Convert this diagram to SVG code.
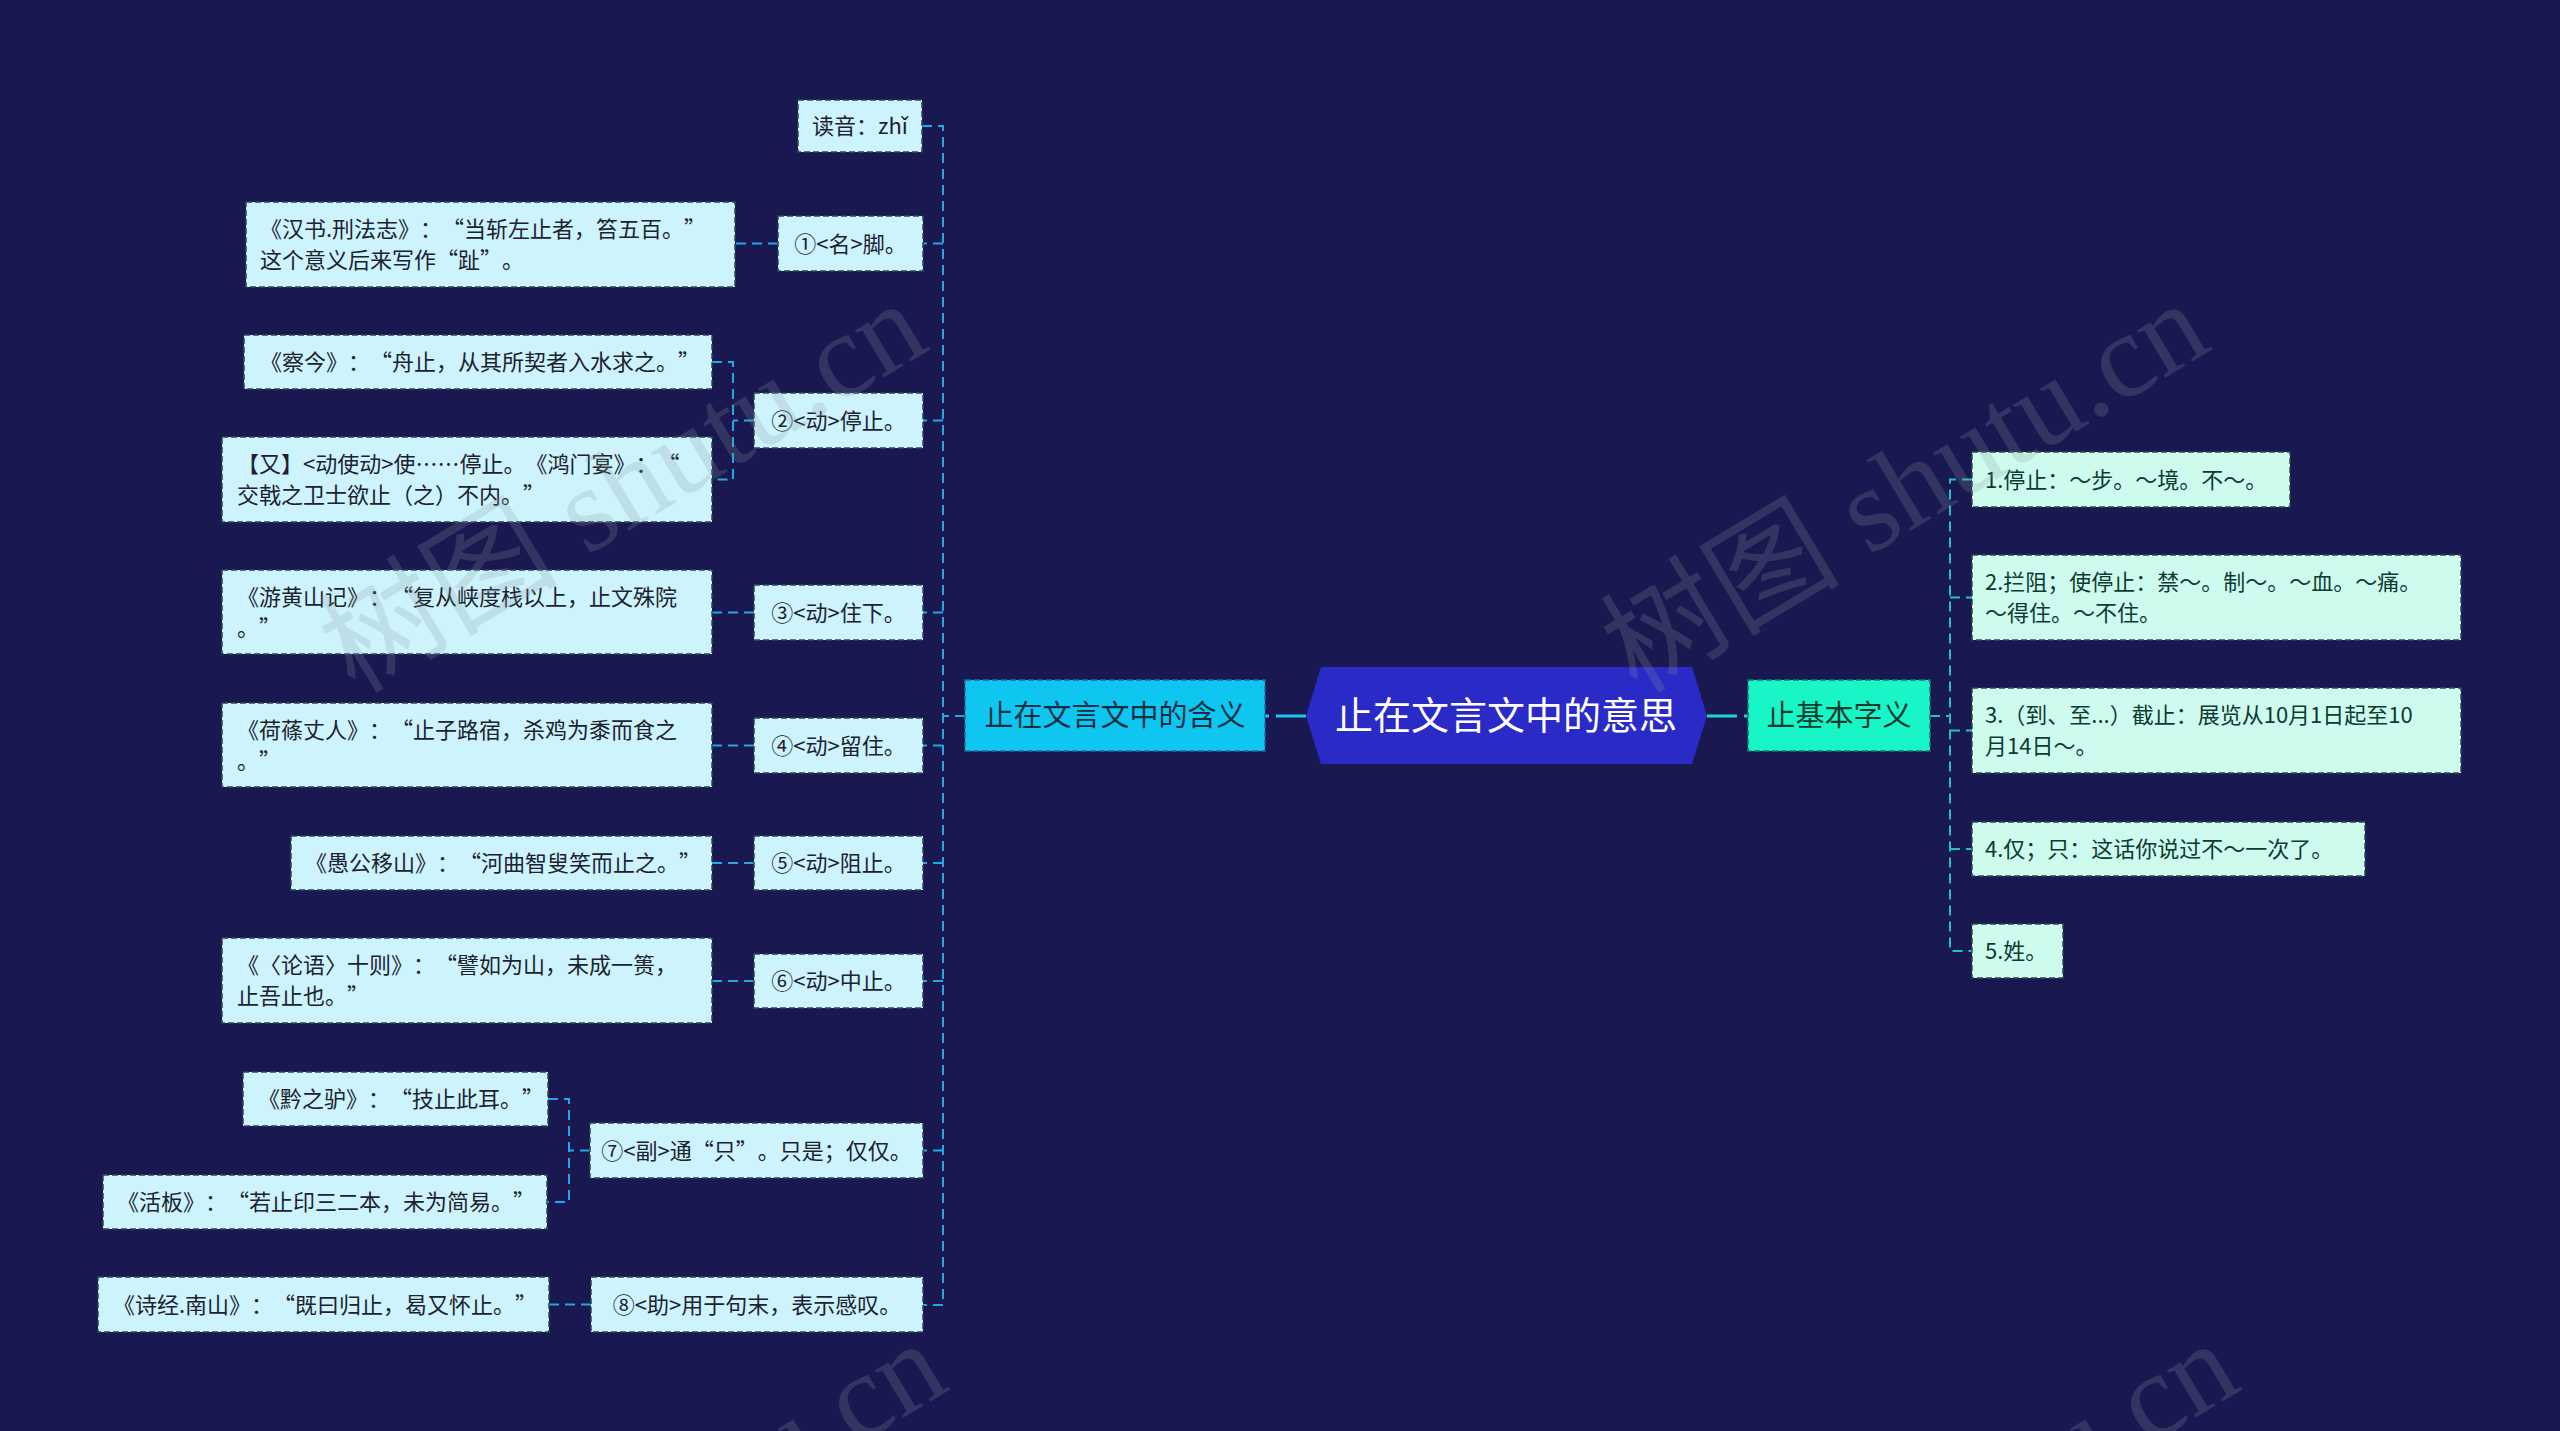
<svg xmlns="http://www.w3.org/2000/svg" width="2560" height="1431" viewBox="0 0 2560 1431">
<style>
.t{font-family:"Noto Sans CJK SC","Noto Sans",sans-serif;font-size:22px;fill:#1c2230;text-spacing-trim:space-all}
.tr{fill:#0e3a30}
.bl{fill:#cdf4fc;stroke:#2e4657;stroke-width:1.5;stroke-dasharray:6 3}
.br{fill:#cdfcef;stroke:#2e4a4a;stroke-width:1.5;stroke-dasharray:6 3}
.cl{fill:none;stroke:#1fa9e6;stroke-width:2;stroke-dasharray:10 6}
.cr{fill:none;stroke:#22c0c6;stroke-width:2;stroke-dasharray:10 6}
.wm{font-family:"Liberation Serif","Noto Sans CJK SC",serif;font-size:120px;fill:#8a9aa0;opacity:0.22}
</style>
<rect x="0" y="0" width="2560" height="1431" fill="#1a1850"/>

<g id="connectors">
<path class="cl" d="M965,716 H943"/>
<path class="cl" d="M922,126 H943 V1305 H923"/>
<path class="cl" d="M943,243.5 H923 M943,420.5 H923 M943,612.5 H923 M943,745.5 H923 M943,863 H923 M943,981 H923 M943,1150.5 H923"/>
<path class="cl" d="M778,243.5 H735"/>
<path class="cl" d="M754,420.5 H733 M712,362 H733 V479.5 H712"/>
<path class="cl" d="M754,612.5 H712"/>
<path class="cl" d="M754,745.5 H712"/>
<path class="cl" d="M754,863 H712"/>
<path class="cl" d="M754,981 H712"/>
<path class="cl" d="M590,1150.5 H569 M548,1099 H569 V1202 H547"/>
<path class="cl" d="M591,1304.5 H549"/>
<path class="cr" d="M1930,716 H1950"/>
<path class="cr" d="M1972,479.5 H1950 V951 H1972 M1950,597.5 H1972 M1950,730.5 H1972 M1950,849 H1972"/>
<path d="M1306,716 H1265" fill="none" stroke="#20c4f0" stroke-width="3" stroke-dasharray="30 7"/>
<path d="M1707,716 H1748" fill="none" stroke="#1cd8c4" stroke-width="3" stroke-dasharray="30 7"/>
</g>

<g id="root">
<polygon points="1306,716 1321,667 1692,667 1707,716 1692,764 1321,764" fill="#2a2ac6"/>
<text x="1506" y="729" text-anchor="middle" style="font-family:'Noto Sans CJK SC',sans-serif;font-size:38px;fill:#ffffff">止在文言文中的意思</text>
</g>

<g id="branch-left">
<rect x="965" y="680" width="300" height="71" fill="#0ec6f0" stroke="#1a6f9a" stroke-width="1.5" stroke-dasharray="6 3"/>
<text x="1115" y="726" text-anchor="middle" class="t" style="font-size:29px;fill:#143042">止在文言文中的含义</text>
</g>
<g id="branch-right">
<rect x="1748" y="680" width="182" height="71" fill="#18f5c6" stroke="#1a7a6a" stroke-width="1.5" stroke-dasharray="6 3"/>
<text x="1839" y="726" text-anchor="middle" class="t" style="font-size:29px;fill:#0e3a30">止基本字义</text>
</g>

<g id="n-duyin"><rect class="bl" x="798" y="100" width="124" height="52"/><text class="t" x="860" y="134" text-anchor="middle">读音：zhǐ</text></g>
<g id="n-1"><rect class="bl" x="778" y="216" width="145" height="55"/><text class="t" x="850.5" y="251.5" text-anchor="middle">①&lt;名&gt;脚。</text></g>
<g id="n-1a"><rect class="bl" x="246" y="202" width="489" height="85"/><text class="t" x="260" y="237">《汉书.刑法志》：“当斩左止者，笞五百。”</text><text class="t" x="260" y="268">这个意义后来写作“趾”。</text></g>
<g id="n-2"><rect class="bl" x="754" y="393" width="169" height="55"/><text class="t" x="838.5" y="428.5" text-anchor="middle">②&lt;动&gt;停止。</text></g>
<g id="n-2a"><rect class="bl" x="244" y="335" width="468" height="54"/><text class="t" x="260" y="370">《察今》：“舟止，从其所契者入水求之。”</text></g>
<g id="n-2b"><rect class="bl" x="222" y="437" width="490" height="85"/><text class="t" x="237" y="472">【又】&lt;动使动&gt;使……停止。《鸿门宴》：“</text><text class="t" x="237" y="503">交戟之卫士欲止（之）不内。”</text></g>
<g id="n-3"><rect class="bl" x="754" y="585" width="169" height="55"/><text class="t" x="838.5" y="620.5" text-anchor="middle">③&lt;动&gt;住下。</text></g>
<g id="n-3a"><rect class="bl" x="222" y="570" width="490" height="84"/><text class="t" x="237" y="604.5">《游黄山记》：“复从峡度栈以上，止文殊院</text><text class="t" x="237" y="635.5">。”</text></g>
<g id="n-4"><rect class="bl" x="754" y="718" width="169" height="55"/><text class="t" x="838.5" y="753.5" text-anchor="middle">④&lt;动&gt;留住。</text></g>
<g id="n-4a"><rect class="bl" x="222" y="703" width="490" height="84"/><text class="t" x="237" y="737.5">《荷蓧丈人》：“止子路宿，杀鸡为黍而食之</text><text class="t" x="237" y="768.5">。”</text></g>
<g id="n-5"><rect class="bl" x="754" y="836" width="169" height="54"/><text class="t" x="838.5" y="871" text-anchor="middle">⑤&lt;动&gt;阻止。</text></g>
<g id="n-5a"><rect class="bl" x="291" y="836" width="421" height="54"/><text class="t" x="305" y="871">《愚公移山》：“河曲智叟笑而止之。”</text></g>
<g id="n-6"><rect class="bl" x="754" y="954" width="169" height="54"/><text class="t" x="838.5" y="989" text-anchor="middle">⑥&lt;动&gt;中止。</text></g>
<g id="n-6a"><rect class="bl" x="222" y="938" width="490" height="85"/><text class="t" x="237" y="973">《〈论语〉十则》：“譬如为山，未成一篑，</text><text class="t" x="237" y="1004">止吾止也。”</text></g>
<g id="n-7"><rect class="bl" x="590" y="1123" width="333" height="55"/><text class="t" x="756.5" y="1158.5" text-anchor="middle">⑦&lt;副&gt;通“只”。只是；仅仅。</text></g>
<g id="n-7a"><rect class="bl" x="243" y="1072" width="305" height="54"/><text class="t" x="258" y="1107">《黔之驴》：“技止此耳。”</text></g>
<g id="n-7b"><rect class="bl" x="103" y="1175" width="444" height="54"/><text class="t" x="117" y="1210">《活板》：“若止印三二本，未为简易。”</text></g>
<g id="n-8"><rect class="bl" x="591" y="1277" width="332" height="55"/><text class="t" x="757" y="1312.5" text-anchor="middle">⑧&lt;助&gt;用于句末，表示感叹。</text></g>
<g id="n-8a"><rect class="bl" x="98" y="1277" width="451" height="55"/><text class="t" x="113" y="1312.5">《诗经.南山》：“既曰归止，曷又怀止。”</text></g>

<g id="r-1"><rect class="br" x="1972" y="452" width="318" height="55"/><text class="t tr" x="1985" y="487.5">1.停止：～步。～境。不～。</text></g>
<g id="r-2"><rect class="br" x="1972" y="555" width="489" height="85"/><text class="t tr" x="1985" y="590">2.拦阻；使停止：禁～。制～。～血。～痛。</text><text class="t tr" x="1985" y="621">～得住。～不住。</text></g>
<g id="r-3"><rect class="br" x="1972" y="688" width="489" height="85"/><text class="t tr" x="1985" y="723">3.（到、至...）截止：展览从10月1日起至10</text><text class="t tr" x="1985" y="754">月14日～。</text></g>
<g id="r-4"><rect class="br" x="1972" y="822" width="393" height="54"/><text class="t tr" x="1985" y="857">4.仅；只：这话你说过不～一次了。</text></g>
<g id="r-5"><rect class="br" x="1972" y="924" width="91" height="54"/><text class="t tr" x="1985" y="959">5.姓。</text></g>

<g id="watermarks">
<text class="wm" transform="translate(355,695) rotate(-31)">树图 shutu.cn</text>
<text class="wm" transform="translate(1637,695) rotate(-31)">树图 shutu.cn</text>
<text class="wm" transform="translate(375,1735) rotate(-31)">树图 shutu.cn</text>
<text class="wm" transform="translate(1667,1735) rotate(-31)">树图 shutu.cn</text>
</g>
</svg>
